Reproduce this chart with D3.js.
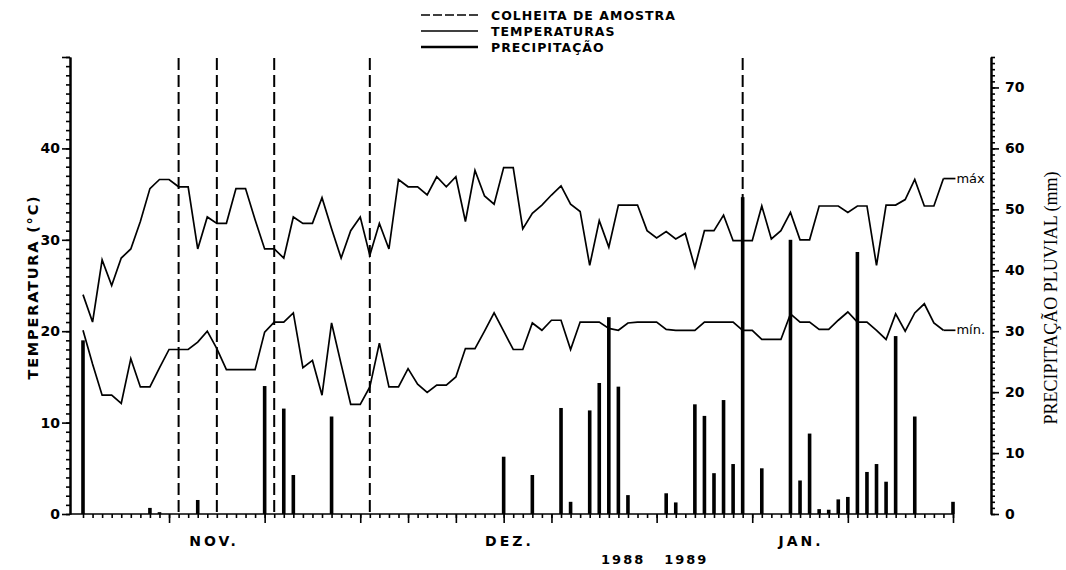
<!DOCTYPE html>
<html><head><meta charset="utf-8">
<script src="https://cdn.jsdelivr.net/npm/d3@7/dist/d3.min.js"></script>
<style>
html,body{margin:0;padding:0;background:#fff;}
svg{display:block;}
</style></head>
<body>
<svg id="chart" width="1066" height="570"></svg>
<script>
// ---- data ----
const tMax = [24.0,21.0,27.8,25.0,28.0,29.0,32.0,35.6,36.6,36.6,35.8,35.8,29.0,32.5,31.8,31.8,35.6,35.6,32.2,29.0,
29.0,28.0,32.5,31.8,31.8,34.6,31.2,28.0,31.0,32.5,28.3,31.8,29.0,36.6,35.8,35.8,34.9,36.9,35.8,36.9,
32.0,37.6,34.8,33.9,37.9,37.9,31.2,32.9,33.8,34.9,35.9,33.9,33.1,27.2,32.1,29.2,33.8,33.8,33.8,31.0,
30.2,30.9,30.1,30.7,27.0,31.0,31.0,32.7,29.9,29.9,29.9,33.7,30.1,31.0,33.0,30.0,30.0,33.7,33.7,33.7,
33.0,33.7,33.7,27.2,33.8,33.8,34.4,36.6,33.7,33.7,36.7];
const tMin = [20.1,16.4,13.0,13.0,12.1,17.0,13.9,13.9,16.0,18.0,18.0,18.0,18.8,20.0,18.1,15.8,15.8,15.8,15.8,19.9,
21.0,21.0,22.0,16.0,16.8,13.0,20.9,16.4,12.0,12.0,13.9,18.7,13.9,13.9,15.9,14.2,13.3,14.1,14.1,15.0,
18.1,18.1,20.0,22.0,20.0,18.0,18.0,20.9,20.1,21.2,21.2,18.0,21.0,21.0,21.0,20.3,20.1,20.9,21.0,21.0,
21.0,20.2,20.1,20.1,20.1,21.0,21.0,21.0,21.0,20.1,20.1,19.1,19.1,19.1,21.9,21.0,21.0,20.2,20.2,21.2,
22.1,21.0,21.0,20.1,19.1,21.9,20.0,22.0,23.0,20.9,20.1];
const precip = [28.5,0,0,0,0,0,0,1.0,0.3,0,0,0,2.3,0,0,0,0,0,0,21.0,
0,17.3,6.4,0,0,0,16.0,0,0,0,0,0,0,0,0,0,0,0,0,0,
0,0,0,0,9.4,0,0,6.4,0,0,17.4,2.0,0,17.0,21.5,32.3,20.9,3.1,0,0,
0,3.4,1.9,0,18.0,16.1,6.7,18.7,8.2,52.0,0,7.5,0,0,45.0,5.5,13.2,0.8,0.7,2.4,
2.8,43.0,6.9,8.2,5.3,29.2,0,16.0,0,0,0,2.0];
const days = d3.range(precip.length);           // day index from start of record
const harvestDays = [10, 14, 20, 30, 69];        // COLHEITA DE AMOSTRA
const majorTickDays = [9, 19, 29, 34, 39, 44, 49, 60, 70, 80, 91];
const monthLabels = ["NOV.", "DEZ.", "JAN."];
const monthCenters = [13.7, 44.6, 75.1];
const yearLabels = ["1988", "1989"];
const yearCenters = [56.5, 63.1];
const tempTickLabels = [0, 10, 20, 30, 40];
const precTickLabels = [0, 10, 20, 30, 40, 50, 60, 70];
const legendLabels = ["COLHEITA DE AMOSTRA", "TEMPERATURAS", "PRECIPITAÇÃO"];

// ---- scales ----
const svg = d3.select("#chart");
const x = d3.scaleLinear().domain([0, 91]).range([83, 953]);
const yT = d3.scaleLinear().domain([0, 50]).range([514, 57]);
const yP = d3.scaleLinear().domain([0, 75]).range([514, 57]);
const leftX = 70, rightX = 991;
const boldFont = "'DejaVu Sans', sans-serif";

// ---- left axis ----
const gL = svg.append("g").attr("transform", `translate(${leftX},0)`);
gL.call(d3.axisLeft(yT).tickValues(d3.range(0, 51, 1)).tickSize(4).tickFormat("").tickSizeOuter(0));
gL.append("g").call(d3.axisLeft(yT).tickValues([0,10,20,30,40,50]).tickSize(8).tickFormat("").tickSizeOuter(0));
gL.append("g").call(d3.axisLeft(yT).tickValues(tempTickLabels).tickSize(0).tickPadding(10).tickFormat(d3.format("d")))
  .call(g => g.select(".domain").remove());
gL.selectAll("path.domain").attr("stroke", "#000").attr("stroke-width", 2);
gL.selectAll("line").attr("stroke", "#000").attr("stroke-width", 1.6);
gL.selectAll("text").attr("font-family", boldFont).attr("font-weight", "bold").attr("font-size", 14).attr("fill", "#000");

// ---- right axis ----
const gR = svg.append("g").attr("transform", `translate(${rightX},0)`);
gR.call(d3.axisRight(yP).tickValues(d3.range(0, 76, 1)).tickSize(4).tickFormat("").tickSizeOuter(0));
gR.append("g").call(d3.axisRight(yP).tickValues([0,10,20,30,40,50,60,70]).tickSize(8).tickFormat("").tickSizeOuter(0));
gR.append("g").call(d3.axisRight(yP).tickValues(precTickLabels).tickSize(0).tickPadding(14).tickFormat(d3.format("d")))
  .call(g => g.select(".domain").remove());
gR.selectAll("path.domain").attr("stroke", "#000").attr("stroke-width", 2);
gR.selectAll("line").attr("stroke", "#000").attr("stroke-width", 1.6);
gR.selectAll("text").attr("font-family", boldFont).attr("font-weight", "bold").attr("font-size", 14).attr("fill", "#000");

// ---- x axis ----
const gX = svg.append("g").attr("transform", `translate(0,${yT(0)})`);
gX.append("line").attr("x1", leftX).attr("x2", x(91)).attr("stroke", "#000").attr("stroke-width", 2.2);
gX.append("g").call(d3.axisBottom(x).tickValues(days).tickSize(4).tickFormat("").tickSizeOuter(0))
  .call(g => g.select(".domain").remove());
gX.append("g").call(d3.axisBottom(x).tickValues(majorTickDays).tickSize(9).tickFormat("").tickSizeOuter(0))
  .call(g => g.select(".domain").remove());
gX.selectAll("line").attr("stroke", "#000").attr("stroke-width", 1.6);

svg.append("g").selectAll("text").data(monthLabels).join("text")
  .attr("x", (d, i) => x(monthCenters[i])).attr("y", 546)
  .attr("text-anchor", "middle").attr("font-family", boldFont).attr("font-weight", "bold")
  .attr("font-size", 14).attr("letter-spacing", 3).text(d => d);
svg.append("g").selectAll("text").data(yearLabels).join("text")
  .attr("x", (d, i) => x(yearCenters[i])).attr("y", 564)
  .attr("text-anchor", "middle").attr("font-family", boldFont).attr("font-weight", "bold")
  .attr("font-size", 13).attr("letter-spacing", 2).text(d => d);

// ---- axis titles ----
svg.append("text").attr("transform", "translate(38,287) rotate(-90)")
  .attr("text-anchor", "middle").attr("font-family", boldFont).attr("font-weight", "bold")
  .attr("font-size", 14.5).attr("letter-spacing", 1.8).text("TEMPERATURA (°C)");
svg.append("text").attr("transform", "translate(1057,298) rotate(-90)")
  .attr("text-anchor", "middle").attr("font-family", "'Liberation Serif', serif")
  .attr("font-size", 18).text("PRECIPITAÇÃO PLUVIAL (mm)");

// ---- precipitation bars ----
svg.append("g").selectAll("rect").data(days.filter(d => precip[d] > 0)).join("rect")
  .attr("x", d => x(d) - 1.8).attr("width", 3.6)
  .attr("y", d => yP(precip[d])).attr("height", d => yP(0) - yP(precip[d]))
  .attr("fill", "#000");

// ---- harvest dashed lines ----
svg.append("g").selectAll("line").data(harvestDays).join("line")
  .attr("x1", d => x(d)).attr("x2", d => x(d)).attr("y1", 58).attr("y2", yT(0))
  .attr("stroke", "#000").attr("stroke-width", 2).attr("stroke-dasharray", "12,5");

// ---- temperature lines ----
const line = d3.line().x((d, i) => x(i)).y(d => yT(d));
[tMax, tMin].forEach(arr => {
  svg.append("path").datum(arr).attr("d", line).attr("fill", "none")
    .attr("stroke", "#000").attr("stroke-width", 1.7).attr("stroke-linejoin", "miter");
  const last = arr.length - 1;
  svg.append("line").attr("x1", x(last)).attr("x2", x(last) + 12)
    .attr("y1", yT(arr[last])).attr("y2", yT(arr[last])).attr("stroke", "#000").attr("stroke-width", 1.7);
});
svg.append("text").attr("x", x(tMax.length - 1) + 13).attr("y", yT(tMax[tMax.length - 1]) + 4)
  .attr("font-family", "'DejaVu Sans', sans-serif").attr("font-size", 13).text("máx");
svg.append("text").attr("x", x(tMin.length - 1) + 13).attr("y", yT(tMin[tMin.length - 1]) + 4)
  .attr("font-family", "'DejaVu Sans', sans-serif").attr("font-size", 13).text("mín.");

// ---- legend ----
const lg = svg.append("g");
const legY = [15, 31, 47];
lg.append("line").attr("x1", 421).attr("x2", 478).attr("y1", legY[0]).attr("y2", legY[0])
  .attr("stroke", "#000").attr("stroke-width", 1.6).attr("stroke-dasharray", "9,3");
lg.append("line").attr("x1", 421).attr("x2", 478).attr("y1", legY[1]).attr("y2", legY[1])
  .attr("stroke", "#000").attr("stroke-width", 1.4);
lg.append("line").attr("x1", 421).attr("x2", 478).attr("y1", legY[2]).attr("y2", legY[2])
  .attr("stroke", "#000").attr("stroke-width", 2.6);
lg.selectAll("text").data(legendLabels).join("text")
  .attr("x", 491).attr("y", (d, i) => legY[i] + 5)
  .attr("font-family", boldFont).attr("font-weight", "bold").attr("font-size", 12.5)
  .attr("letter-spacing", 1).text(d => d);
</script>
</body></html>
